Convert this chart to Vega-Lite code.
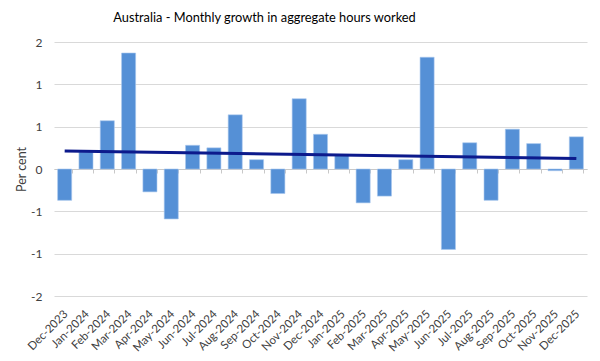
{
  "$schema": "https://vega.github.io/schema/vega-lite/v6.json",
  "autosize": {"type": "none"},
  "width": 533,
  "height": 254,
  "padding": {"left": 54, "top": 42, "right": 13, "bottom": 65},
  "background": "white",
  "title": {
    "text": "Australia - Monthly growth in aggregate hours worked",
    "font": "Lato",
    "fontSize": 12.8,
    "fontWeight": "normal",
    "color": "#000000",
    "anchor": "middle",
    "frame": "group",
    "dx": -56,
    "offset": 11
  },
  "datasets": {
    "bars": [
      {"month": "Dec-2023", "value": -0.37},
      {"month": "Jan-2024", "value": 0.20},
      {"month": "Feb-2024", "value": 0.57},
      {"month": "Mar-2024", "value": 1.37},
      {"month": "Apr-2024", "value": -0.27},
      {"month": "May-2024", "value": -0.59},
      {"month": "Jun-2024", "value": 0.28},
      {"month": "Jul-2024", "value": 0.25},
      {"month": "Aug-2024", "value": 0.64},
      {"month": "Sep-2024", "value": 0.11},
      {"month": "Oct-2024", "value": -0.29},
      {"month": "Nov-2024", "value": 0.83},
      {"month": "Dec-2024", "value": 0.41},
      {"month": "Jan-2025", "value": 0.16},
      {"month": "Feb-2025", "value": -0.40},
      {"month": "Mar-2025", "value": -0.32},
      {"month": "Apr-2025", "value": 0.11},
      {"month": "May-2025", "value": 1.32},
      {"month": "Jun-2025", "value": -0.95},
      {"month": "Jul-2025", "value": 0.31},
      {"month": "Aug-2025", "value": -0.37},
      {"month": "Sep-2025", "value": 0.47},
      {"month": "Oct-2025", "value": 0.30},
      {"month": "Nov-2025", "value": -0.02},
      {"month": "Dec-2025", "value": 0.38}
    ],
    "trend": [
      {"month": "Dec-2023", "trend": 0.213},
      {"month": "Dec-2025", "trend": 0.123}
    ]
  },
  "config": {
    "view": {"stroke": null},
    "axis": {"labelFont": "Lato", "titleFont": "Lato", "labelColor": "#404040", "titleColor": "#404040"}
  },
  "layer": [
    {
      "data": {"name": "bars"},
      "mark": {"type": "bar", "color": "#5590d6", "stroke": "#a9c8ee", "strokeWidth": 0.6},
      "encoding": {
        "x": {
          "field": "month",
          "type": "ordinal",
          "sort": null,
          "scale": {"paddingInner": 0.34, "paddingOuter": 0.17},
          "axis": {
            "title": null,
            "orient": "bottom",
            "offset": -127,
            "domainColor": "#c8c8c8",
            "tickColor": "#c8c8c8",
            "tickBand": "extent",
            "tickSize": 4,
            "labelAngle": -45,
            "labelPadding": 135,
            "labelOffset": -3,
            "labelFontSize": 11.5,
            "grid": false
          }
        },
        "y": {
          "field": "value",
          "type": "quantitative",
          "scale": {"domain": [-1.5, 1.5], "nice": false, "zero": false},
          "axis": {
            "title": "Per cent",
            "titleFontSize": 12.5,
            "titleFontWeight": "normal",
            "titlePadding": 2,
            "values": [-1.5, -1, -0.5, 0, 0.5, 1, 1.5],
            "labelExpr": "datum.value >= 0 ? '' + round(datum.value) : '-' + round(-datum.value)",
            "labelFontSize": 12,
            "labelPadding": 12,
            "ticks": false,
            "domain": false,
            "grid": true,
            "gridColor": "#d9d9d9",
            "gridWidth": 1
          }
        }
      }
    },
    {
      "data": {"name": "trend"},
      "mark": {"type": "line", "color": "#0c1a8c", "strokeWidth": 3},
      "encoding": {
        "x": {"field": "month", "type": "ordinal", "sort": null},
        "y": {"field": "trend", "type": "quantitative"}
      }
    }
  ]
}
